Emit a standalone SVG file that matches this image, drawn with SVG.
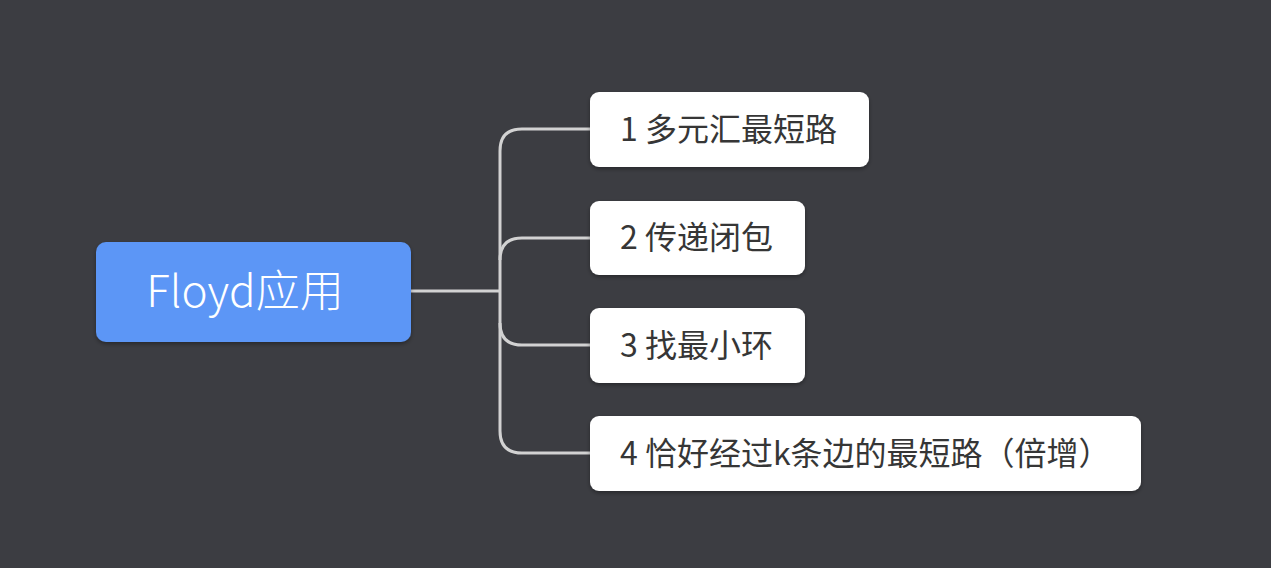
<svg xmlns="http://www.w3.org/2000/svg" width="1271" height="568" viewBox="0 0 1271 568">
<style>
.bg{fill:#3c3d42}
.box{fill:#ffffff;filter:url(#sh)}
.root{fill:#5b96f6;filter:url(#sh)}
.t{font-family:"Noto Sans CJK SC","Liberation Sans",sans-serif;font-size:32px;fill:#363636}
.rt{font-family:"Noto Sans CJK SC","Liberation Sans",sans-serif;font-size:44px;font-weight:300;fill:#ffffff}
.c{fill:none;stroke:#d2d2d2;stroke-width:3}
</style>
<defs>
<filter id="sh" x="-10%" y="-20%" width="120%" height="150%">
<feDropShadow dx="0" dy="2" stdDeviation="2" flood-color="#000" flood-opacity="0.35"/>
</filter>
</defs>
<rect class="bg" x="0" y="0" width="1271" height="568"/>
<g id="connectors">
<path class="c" d="M411,291 H500"/>
<path class="c" d="M590,129 H522 Q500,129 500,151 V431 Q500,453 522,453 H590"/>
<path class="c" d="M590,238 H522 Q500,238 500,260"/>
<path class="c" d="M500,323 Q500,345 522,345 H590"/>
</g>
<g id="root">
<rect class="root" x="96" y="242" width="315" height="100" rx="10"/>
<text class="rt" x="245" y="307" text-anchor="middle">Floyd应用</text>
</g>
<g id="n1">
<rect class="box" x="590" y="92" width="279" height="75" rx="9"/>
<text class="t" x="620" y="141">1 多元汇最短路</text>
</g>
<g id="n2">
<rect class="box" x="590" y="201" width="215" height="74" rx="9"/>
<text class="t" x="620" y="249">2 传递闭包</text>
</g>
<g id="n3">
<rect class="box" x="590" y="308" width="215" height="75" rx="9"/>
<text class="t" x="620" y="357">3 找最小环</text>
</g>
<g id="n4">
<rect class="box" x="590" y="416" width="551" height="75" rx="9"/>
<text class="t" x="620" y="465">4 恰好经过k条边的最短路（倍增）</text>
</g>
</svg>
